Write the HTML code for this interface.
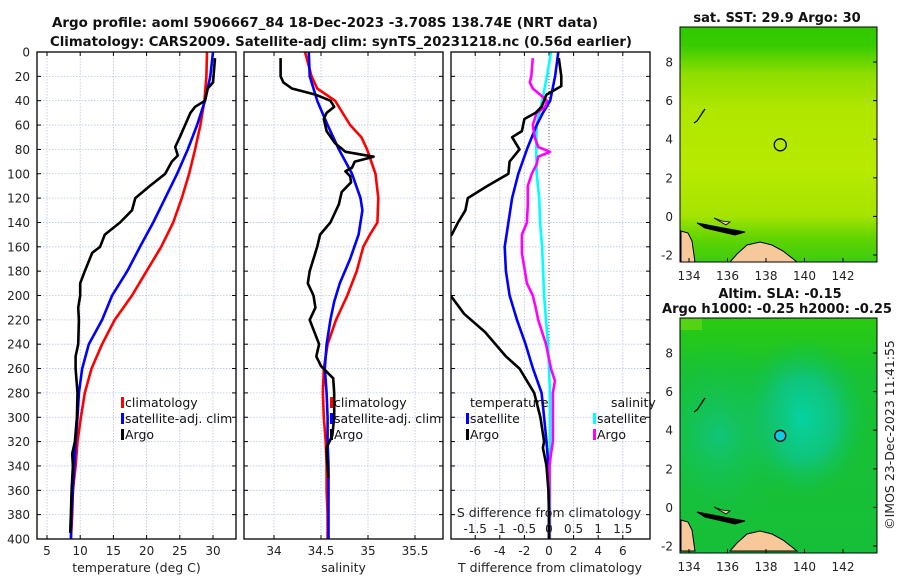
<!DOCTYPE html>
<html><head><meta charset="utf-8"><style>
html,body{margin:0;padding:0;background:#fff;}
svg{display:block;font-family:"DejaVu Sans","Liberation Sans",sans-serif;}
</style></head><body>
<svg id="c" width="900" height="580" viewBox="0 0 900 580" xmlns="http://www.w3.org/2000/svg">
<defs>
<clipPath id="cp1"><rect x="37" y="52" width="199" height="487"/></clipPath>
<clipPath id="cp2"><rect x="244" y="52" width="199" height="487"/></clipPath>
<clipPath id="cp3"><rect x="451" y="52" width="199" height="487"/></clipPath>
<linearGradient id="sstg" x1="0" y1="0" x2="0" y2="1">
<stop offset="0" stop-color="#2fc800"/><stop offset="0.08" stop-color="#38cc00"/><stop offset="0.2" stop-color="#8ede00"/><stop offset="0.35" stop-color="#b0e600"/><stop offset="0.6" stop-color="#b8ea00"/><stop offset="0.8" stop-color="#a6e400"/><stop offset="0.9" stop-color="#60d400"/><stop offset="1" stop-color="#3ccc10"/>
</linearGradient>
<radialGradient id="slab" cx="0.62" cy="0.43" r="0.35"><stop offset="0" stop-color="#06d2a0"/><stop offset="0.5" stop-color="#10c47a"/><stop offset="1" stop-color="#14c040" stop-opacity="0"/></radialGradient>
<radialGradient id="slab2" cx="0.2" cy="0.5" r="0.4"><stop offset="0" stop-color="#12c47a"/><stop offset="1" stop-color="#14c040" stop-opacity="0"/></radialGradient>
<linearGradient id="slag" x1="0" y1="0" x2="0" y2="1"><stop offset="0" stop-color="#2acb10"/><stop offset="0.25" stop-color="#18c232"/><stop offset="1" stop-color="#16bf38"/></linearGradient>
</defs>
<g id="root"></g>
</svg>
<script>
// ---- data (depths in m) ----
const tClimDepth=[0,20,40,60,80,100,120,140,160,180,200,220,240,260,280,300,320,340,360,380,400];
const tClim=[29.1,29.0,28.7,28.1,27.3,26.4,25.3,24.0,22.2,20.0,17.8,15.2,13.3,11.7,10.7,10.1,9.6,9.3,8.9,8.8,8.6];
const tSat=[30.0,29.6,28.8,27.6,26.2,24.6,22.8,21.0,19.0,17.1,14.8,13.3,11.3,10.3,9.8,9.6,9.3,9.1,8.9,8.7,8.6];
const tArgoDepth=[5,25,30,40,45,50,60,70,78,85,90,100,110,120,130,140,150,160,165,180,190,200,210,220,240,250,260,280,300,320,330,340,360,380,395];
const tArgo=[30.3,30.0,29.2,28.8,27.3,26.6,25.8,25.0,24.3,24.7,23.8,22.8,20.5,18.3,17.8,16.0,13.7,13.0,11.8,10.7,10.0,10.0,9.7,9.8,9.7,9.3,9.3,9.6,9.5,9.2,8.8,8.9,8.7,8.6,8.5];

const sClimDepth=[0,20,30,40,60,70,80,100,120,140,150,160,180,200,220,240,260,280,300,320,340,360,380,400];
const sClim=[34.33,34.40,34.46,34.65,34.81,34.93,34.99,35.08,35.11,35.10,35.02,34.95,34.88,34.78,34.66,34.57,34.53,34.52,34.53,34.55,34.56,34.56,34.57,34.57];
const sSatDepth=[0,20,30,40,60,80,100,120,130,150,170,190,205,220,240,260,280,300,320,340,360,380,400];
const sSat=[34.37,34.38,34.42,34.46,34.57,34.69,34.83,34.92,34.94,34.90,34.81,34.70,34.64,34.60,34.56,34.54,34.56,34.57,34.57,34.58,34.58,34.58,34.58];
const sArgoDepth=[5,20,25,30,35,40,45,50,55,65,75,82,86,90,95,98,102,107,115,125,140,150,160,180,190,200,210,220,240,250,258,268,280,300,315,325,340,350];
const sArgo=[34.07,34.07,34.10,34.19,34.44,34.60,34.64,34.56,34.53,34.56,34.65,34.76,35.06,34.86,34.83,34.76,34.81,34.82,34.72,34.69,34.60,34.49,34.46,34.38,34.36,34.42,34.44,34.38,34.48,34.45,34.50,34.63,34.64,34.64,34.62,34.56,34.57,34.58];

const dTSatDepth=[0,20,40,50,60,80,100,120,140,160,180,200,210,220,240,260,280,300,320,340,360,380,400];
const dTSat=[0.76,0.5,0.1,-0.5,-1.0,-1.8,-2.5,-3.0,-3.3,-3.6,-3.5,-3.2,-2.9,-2.6,-1.9,-1.3,-0.6,-0.4,-0.2,-0.05,0,0,0];
const dTArgoDepth=[5,20,28,35,45,50,55,65,70,80,90,100,110,120,130,140,150,165,185,200,215,230,250,260,280,300,320,325,340,360,380,400];
const dTArgo=[0.8,1.0,1.0,-0.2,-0.6,-1.1,-2.0,-2.2,-3.0,-2.4,-3.2,-3.3,-5.0,-6.6,-6.8,-7.4,-7.9,-9.5,-9.5,-8.0,-6.9,-5.2,-3.5,-2.4,-1.2,-0.7,-0.4,-0.5,-0.2,-0.05,0,0];
const dSSatDepth=[0,20,40,60,80,100,120,140,160,180,200,220,240,260,280,300,320,340,360,380,400];
const dSSat=[0.04,-0.04,-0.14,-0.25,-0.26,-0.25,-0.2,-0.18,-0.14,-0.12,-0.1,-0.06,-0.02,0,0.02,0.02,0.02,0.02,0.02,0.02,0.02];
const dSArgoDepth=[5,20,25,30,35,40,45,50,60,70,78,82,86,92,100,110,125,140,150,165,180,190,200,210,220,240,260,270,280,300,320,330,340,360,380,400];
const dSArgo=[-0.33,-0.36,-0.39,-0.33,-0.18,-0.04,-0.08,-0.25,-0.33,-0.29,-0.22,0.02,-0.22,-0.25,-0.35,-0.43,-0.43,-0.45,-0.55,-0.55,-0.49,-0.45,-0.33,-0.27,-0.22,-0.06,0.04,0.12,0.08,0.08,0.08,0.04,0.01,0.01,0.01,0.01];

const depthTicks=[0,20,40,60,80,100,120,140,160,180,200,220,240,260,280,300,320,340,360,380,400];
const tTicks=[5,10,15,20,25,30];
const sTicks=[34,34.5,35,35.5];
const sTickLabels=["34","34.5","35","35.5"];
const dTTicks=[-6,-4,-2,0,2,4,6];
const dSTicks=[-1.5,-1,-0.5,0,0.5,1,1.5];
const dSTickLabels=["-1.5","-1","-0.5","0","0.5","1","1.5"];
const lonTicks=[134,136,138,140,142];
const latTicks=[-2,0,2,4,6,8];
const argoLon=138.74, argoLat=3.708;

// ---- scales ----
const Y=d=>52+d*1.2175;
const XT=t=>47+(t-5)*6.64;
const XS=s=>321+(s-34.5)*94;
const XD=v=>549+v*12.3;
const XSD=v=>549+v*49.2;
const MX=lon=>689+(lon-134)*19.25;
const M1Y=lat=>255-(lat+2)*19.3;
const M2Y=lat=>546-(lat+2)*19.3;

const NS="http://www.w3.org/2000/svg";
const root=document.getElementById('root');
function mk(tag,attrs,parent,txt){const e=document.createElementNS(NS,tag);for(const k in attrs)e.setAttribute(k,attrs[k]);if(txt!==undefined)e.textContent=txt;(parent||root).appendChild(e);return e;}

const panels=[{x:37,clip:'cp1',name:'temperature-panel'},{x:244,clip:'cp2',name:'salinity-panel'},{x:451,clip:'cp3',name:'difference-panel'}];
const W=199,H=487,top0=52;
panels.forEach((p,i)=>{
  const g=mk('g',{});
  
  
  depthTicks.forEach(d=>{
    const l=mk('line',{x1:p.x,x2:p.x+W,y1:Y(d),y2:Y(d),stroke:'#b8c4e6','stroke-width':0.8,'stroke-dasharray':'1.5,1.5'},g);
    
    
    mk('line',{x1:p.x,x2:p.x+4,y1:Y(d),y2:Y(d),stroke:'#000','stroke-width':1},g);
    mk('line',{x1:p.x+W-4,x2:p.x+W,y1:Y(d),y2:Y(d),stroke:'#000','stroke-width':1},g);
  });
  p.g=g;
});
depthTicks.forEach(d=>{
  const t=mk('text',{x:30,y:Y(d)+4.5,'text-anchor':'end','font-size':12,fill:'#222'},root,String(d));
  
  
});
function xGrid(p,xs){xs.forEach(x=>{
  const l=mk('line',{x1:x,x2:x,y1:top0,y2:top0+H,stroke:'#b8c4e6','stroke-width':0.8,'stroke-dasharray':'1.5,1.5'},p.g);
  
  
  mk('line',{x1:x,x2:x,y1:top0,y2:top0+4,stroke:'#000'},p.g);
  mk('line',{x1:x,x2:x,y1:top0+H-4,y2:top0+H,stroke:'#000'},p.g);
});}
xGrid(panels[0],tTicks.map(XT));
xGrid(panels[1],sTicks.map(XS));
xGrid(panels[2],dTTicks.map(XD));
tTicks.forEach(t=>{const e=mk('text',{x:XT(t),y:555,'text-anchor':'middle','font-size':12,fill:'#222'},root,String(t));
  
  });
sTicks.forEach((s,i)=>{const e=mk('text',{x:XS(s),y:555,'text-anchor':'middle','font-size':12,fill:'#222'},root,sTickLabels[i]);
  
  });
dTTicks.forEach(t=>{const e=mk('text',{x:XD(t),y:555,'text-anchor':'middle','font-size':12,fill:'#222'},root,String(t));
  
  });
dSTicks.forEach((s,i)=>{const e=mk('text',{x:XSD(s),y:533,'text-anchor':'middle','font-size':12,fill:'#222'},root,dSTickLabels[i]);
  
  });
const z=mk('line',{x1:XD(0),x2:XD(0),y1:top0,y2:top0+H,stroke:'#555','stroke-width':1,'stroke-dasharray':'1,2'},panels[2].g);



function series(p,depths,vals,xf,color,name){
  const pts=depths.map((d,i)=>xf(vals[i]).toFixed(1)+','+Y(d).toFixed(1)).join(' ');
  const l=mk('polyline',{points:pts,fill:'none',stroke:color,'stroke-width':2.6,'stroke-linejoin':'round','clip-path':'url(#'+p.clip+')'},p.g);
  
  
}
series(panels[0],tClimDepth,tClim,XT,'#ff0000','temperature-climatology-line');
series(panels[0],tClimDepth,tSat,XT,'#0000ff','temperature-satellite-line');
series(panels[0],tArgoDepth,tArgo,XT,'#000','temperature-argo-line');
series(panels[1],sClimDepth,sClim,XS,'#ff0000','salinity-climatology-line');
series(panels[1],sSatDepth,sSat,XS,'#0000ff','salinity-satellite-line');
series(panels[1],sArgoDepth,sArgo,XS,'#000','salinity-argo-line');
series(panels[2],dSSatDepth,dSSat,XSD,'#00ffff','s-diff-satellite-line');
series(panels[2],dTSatDepth,dTSat,XD,'#0000ff','t-diff-satellite-line');
series(panels[2],dSArgoDepth,dSArgo,XSD,'#ff00ff','s-diff-argo-line');
series(panels[2],dTArgoDepth,dTArgo,XD,'#000','t-diff-argo-line');

panels.forEach(p=>{const b=mk('rect',{x:p.x,y:top0,width:W,height:H,fill:'none',stroke:'#000','stroke-width':1.3},p.g);
  
  });

function legend(x,y,color,label,name){
  const g=mk('g',{});
  
  
  mk('rect',{x:x,y:y-10,width:3,height:11,fill:color},g);
  mk('text',{x:x+4,y:y,'font-size':12.5,fill:'#111'},g,label);
}
legend(121,407,'#ff0000','climatology','legend-climatology');
legend(121,423,'#0000ff','satellite-adj. clim','legend-satellite');
legend(121,439,'#000','Argo','legend-argo');
legend(330,407,'#ff0000','climatology','legend-climatology-salinity');
legend(330,423,'#0000ff','satellite-adj. clim','legend-satellite-salinity');
legend(330,439,'#000','Argo','legend-argo-salinity');
mk('text',{x:470,y:407,'font-size':12.5,fill:'#111'},root,'temperature');
mk('text',{x:611,y:407,'font-size':12.5,fill:'#111'},root,'salinity');
legend(466,423,'#0000ff','satellite','legend-t-satellite');
legend(466,439,'#000','Argo','legend-t-argo');
legend(593,423,'#00ffff','satellite','legend-s-satellite');
legend(593,439,'#ff00ff','Argo','legend-s-argo');

[['temperature (deg C)',136.5,'x-axis-title-temperature'],['salinity',343.5,'x-axis-title-salinity'],['T difference from climatology',550,'x-axis-title-t-diff']].forEach(a=>{
  const e=mk('text',{x:a[1],y:572,'text-anchor':'middle','font-size':12.5,fill:'#222'},root,a[0]);
  
  });
const sd=mk('text',{x:549,y:517,'text-anchor':'middle','font-size':12.5,fill:'#222'},root,'S difference from climatology');



const t1=mk('text',{x:325,y:27,'text-anchor':'middle','font-size':13,'font-weight':'bold',fill:'#111',textLength:546,lengthAdjust:'spacingAndGlyphs'},root,'Argo profile: aoml 5906667_84 18-Dec-2023 -3.708S 138.74E (NRT data)');


const t2=mk('text',{x:341,y:46,'text-anchor':'middle','font-size':13,'font-weight':'bold',fill:'#111',textLength:582,lengthAdjust:'spacingAndGlyphs'},root,'Climatology: CARS2009. Satellite-adj clim: synTS_20231218.nc (0.56d earlier)');



function landPath(off){
  return 'M681,'+(520+off)+' L688,'+(522+off)+' L692,'+(530+off)+' L695,'+(551+off)+' L681,'+(551+off)+' Z '+
         'M730,'+(551+off)+' L737,'+(543+off)+' L747,'+(534+off)+' L760,'+(531+off)+' L772,'+(534+off)+' L783,'+(540+off)+' L797,'+(551+off)+' Z';
}
function map(yTop,yFn,fill,name,off,circleFill){
  const g=mk('g',{});
  
  
  mk('rect',{x:680,y:yTop,width:197,height:235,fill:fill},g);
  if(circleFill){
    mk('rect',{x:680,y:yTop,width:197,height:235,fill:'url(#slab)'},g);
    mk('rect',{x:680,y:yTop,width:197,height:235,fill:'url(#slab2)'},g);
    mk('rect',{x:680,y:yTop,width:22,height:12,fill:'#52d414'},g);
  }
  const land=mk('path',{d:landPath(off),fill:'#f7c89a',stroke:'#000','stroke-width':1},g);
  
  
  const isl=mk('path',{d:'M697,'+(512+off)+' L718,'+(516+off)+' L745,'+(521+off)+' L735,'+(524+off)+' L705,'+(517+off)+' Z',fill:'#000',stroke:'#000','stroke-width':1},g);
  
  
  mk('path',{d:'M714,'+(507+off)+' L722,'+(510+off)+' L730,'+(511+off)+' L726,'+(514+off)+' Z',fill:'#f7c89a',stroke:'#000','stroke-width':0.8},g);
  mk('path',{d:'M702,'+(402+off)+' L705,'+(398+off)+' L697,'+(410+off)+' L694,'+(412+off),fill:'none',stroke:'#000','stroke-width':1.2},g);
  mk('rect',{x:680,y:yTop,width:197,height:235,fill:'none',stroke:'#000','stroke-width':1},g);
  lonTicks.forEach(l=>{mk('line',{x1:MX(l),x2:MX(l),y1:yTop+235,y2:yTop+231,stroke:'#000'},g);
    const e=mk('text',{x:MX(l),y:yTop+253,'text-anchor':'middle','font-size':12,fill:'#222'},root,String(l));
    
    });
  latTicks.forEach(l=>{mk('line',{x1:877,x2:873,y1:yFn(l),y2:yFn(l),stroke:'#000'},g);
    const e=mk('text',{x:673,y:yFn(l)+4.5,'text-anchor':'end','font-size':12,fill:'#222'},root,String(l));
    
    });
  const c=mk('circle',{cx:MX(argoLon),cy:yFn(argoLat),r:circleFill?5.5:6,fill:circleFill||'none',stroke:'#000','stroke-width':1.3},g);
  
  
}
map(27,M1Y,'url(#sstg)','sst-map',-289,null);
map(318,M2Y,'url(#slag)','sla-map',0,'#10c8e0');
const mt1=mk('text',{x:777,y:22,'text-anchor':'middle','font-size':13,'font-weight':'bold',fill:'#111'},root,'sat. SST: 29.9 Argo: 30');


const mt2=mk('text',{x:780,y:298,'text-anchor':'middle','font-size':13,'font-weight':'bold',fill:'#111'},root,'Altim. SLA: -0.15');


const mt3=mk('text',{x:777,y:313,'text-anchor':'middle','font-size':13,'font-weight':'bold',fill:'#111',textLength:230,lengthAdjust:'spacingAndGlyphs'},root,'Argo h1000: -0.25 h2000: -0.25');


const cr=mk('text',{x:0,y:0,'text-anchor':'middle','font-size':12.5,fill:'#222',transform:'translate(894,435) rotate(-90)'},root,'©IMOS 23-Dec-2023 11:41:55');


</script>
</body></html>
